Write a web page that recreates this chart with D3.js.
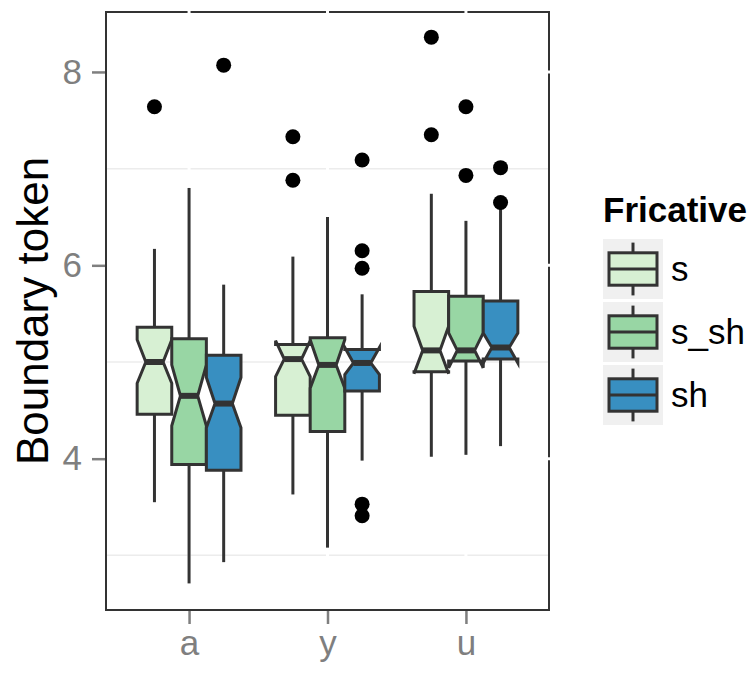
<!DOCTYPE html>
<html>
<head>
<meta charset="utf-8">
<script src="https://cdn.jsdelivr.net/npm/d3@7"></script>
<style>
  body { margin: 0; background: #fff; }
  svg { display: block; font-family: 'Liberation Sans', Arial, sans-serif; }
</style>
</head>
<body>
<svg></svg>
<script>
const SIZE = { width: 749, height: 673 };
const PANEL = { left: 106, right: 549, top: 12, bottom: 610 };

const vowels = ['a', 'y', 'u'];
const fricatives = ['s', 's_sh', 'sh'];
const fills = ['#d7f0d3', '#98d6a4', '#388fc1'];

// rows = vowel, columns = fricative
const whiskerLow = [[3.55, 2.71, 2.93], [3.63, 3.08, 3.98], [4.02, 4.04, 4.13]];
const lowerHinge = [[4.46, 3.94, 3.88], [4.45, 4.28, 4.70], [4.90, 5.01, 5.03]];
const medians = [[5.00, 4.65, 4.57], [5.03, 4.97, 4.99], [5.12, 5.12, 5.15]];
const upperHinge = [[5.36, 5.24, 5.07], [5.18, 5.25, 5.13], [5.73, 5.68, 5.63]];
const whiskerHigh = [[6.17, 6.80, 5.80], [6.09, 6.50, 5.70], [6.74, 6.46, 6.60]];
const notchLow = [[4.78, 4.34, 4.32], [4.85, 4.73, 4.87], [4.88, 4.94, 4.99]];
const notchHigh = [[5.23, 4.97, 4.84], [5.22, 5.23, 5.15], [5.37, 5.30, 5.30]];
const outliers = [
  [[7.64], [], [8.07]],
  [[7.33, 6.88], [], [7.09, 6.15, 5.97, 3.53, 3.41]],
  [[8.36, 7.35], [7.64, 6.93], [7.01, 6.65]]
];

const yTicks = [4, 6, 8];
const yMinor = [3, 5, 7];

const LINE = 3;

const svg = d3.select('svg').attr('width', SIZE.width).attr('height', SIZE.height);

const y = d3.scaleLinear().domain([2.435, 8.62]).range([PANEL.bottom, PANEL.top]);
const x = d3.scalePoint().domain(vowels).range([PANEL.left, PANEL.right]).padding(0.6);
const dodge = d3.scaleBand().domain(fricatives)
  .range([-0.375 * x.step(), 0.375 * x.step()]);
const colour = d3.scaleOrdinal().domain(fricatives).range(fills);

// panel
svg.append('rect')
  .attr('x', PANEL.left).attr('y', PANEL.top)
  .attr('width', PANEL.right - PANEL.left).attr('height', PANEL.bottom - PANEL.top)
  .attr('fill', '#fff').attr('stroke', '#333').attr('stroke-width', 2);

svg.append('g').selectAll('line').data(yMinor).join('line')
  .attr('x1', PANEL.left + 1).attr('x2', PANEL.right - 1)
  .attr('y1', d => y(d)).attr('y2', d => y(d))
  .attr('stroke', '#ececec').attr('stroke-width', 1.5);

const major = svg.append('g');
major.selectAll('.hy').data(yTicks).join('line')
  .attr('x1', PANEL.left + 1).attr('x2', PANEL.right + 1)
  .attr('y1', d => y(d)).attr('y2', d => y(d))
  .attr('stroke', '#fff').attr('stroke-width', 3);
major.selectAll('.vx').data(vowels).join('line')
  .attr('x1', d => x(d)).attr('x2', d => x(d))
  .attr('y1', PANEL.top - 1).attr('y2', PANEL.bottom - 1)
  .attr('stroke', '#fff').attr('stroke-width', 3);

// axes
const yAxis = svg.append('g')
  .attr('transform', `translate(${PANEL.left - 1},0)`)
  .call(d3.axisLeft(y).tickValues(yTicks).tickFormat(d3.format('d')).tickSize(13).tickPadding(10));
const xAxis = svg.append('g')
  .attr('transform', `translate(0,${PANEL.bottom + 1})`)
  .call(d3.axisBottom(x).tickSize(13).tickPadding(6));
[yAxis, xAxis].forEach(a => {
  a.select('.domain').remove();
  a.selectAll('line').attr('stroke', '#7f7f7f').attr('stroke-width', 2.5);
  a.selectAll('text').attr('fill', '#7f7f7f').style('font-size', '35px');
});

svg.append('text')
  .attr('transform', `translate(48,${(PANEL.top + PANEL.bottom) / 2}) rotate(-90)`)
  .attr('text-anchor', 'middle')
  .style('font-size', '44px')
  .text('Boundary token');

// boxes
const boxes = [];
vowels.forEach((v, i) => fricatives.forEach((f, j) => boxes.push({
  v, f,
  ymin: whiskerLow[i][j], lower: lowerHinge[i][j], middle: medians[i][j],
  upper: upperHinge[i][j], ymax: whiskerHigh[i][j],
  nlo: notchLow[i][j], nhi: notchHigh[i][j], out: outliers[i][j]
})));

const bw = dodge.bandwidth();
const cx = d => x(d.v) + dodge(d.f) + bw / 2;

const boxG = svg.append('g').selectAll('g').data(boxes).join('g');

boxG.append('line')
  .attr('x1', cx).attr('x2', cx)
  .attr('y1', d => y(d.upper)).attr('y2', d => y(d.ymax))
  .attr('stroke', '#333').attr('stroke-width', LINE);
boxG.append('line')
  .attr('x1', cx).attr('x2', cx)
  .attr('y1', d => y(d.lower)).attr('y2', d => y(d.ymin))
  .attr('stroke', '#333').attr('stroke-width', LINE);

boxG.append('path')
  .attr('d', d => {
    const x0 = cx(d) - bw / 2, x1 = cx(d) + bw / 2, ind = bw * 0.25;
    const pts = [
      [x0, d.upper], [x0, d.nhi], [x0 + ind, d.middle], [x0, d.nlo], [x0, d.lower],
      [x1, d.lower], [x1, d.nlo], [x1 - ind, d.middle], [x1, d.nhi], [x1, d.upper]
    ];
    return 'M' + pts.map(p => `${p[0]},${y(p[1])}`).join('L') + 'Z';
  })
  .attr('fill', d => colour(d.f))
  .attr('stroke', '#333').attr('stroke-width', LINE).attr('stroke-linejoin', 'miter');

boxG.append('line')
  .attr('x1', d => cx(d) - bw / 4).attr('x2', d => cx(d) + bw / 4)
  .attr('y1', d => y(d.middle)).attr('y2', d => y(d.middle))
  .attr('stroke', '#333').attr('stroke-width', LINE * 2);

boxG.selectAll('circle').data(d => d.out.map(o => ({ d, o }))).join('circle')
  .attr('cx', p => cx(p.d)).attr('cy', p => y(p.o)).attr('r', 7.5)
  .attr('fill', '#000');

// legend
const legend = svg.append('g').attr('transform', 'translate(603,200)');
legend.append('text')
  .attr('x', 0).attr('y', 22)
  .style('font-size', '35px').style('font-weight', 'bold')
  .text('Fricative');

const KEY = 60, STEP = 63;
const keys = legend.selectAll('.key').data(fricatives).join('g')
  .attr('transform', (d, i) => `translate(0,${39 + i * STEP})`);
keys.append('rect').attr('width', KEY).attr('height', KEY).attr('fill', '#f0f0f0');
keys.append('line')
  .attr('x1', KEY / 2).attr('x2', KEY / 2).attr('y1', KEY * 0.06).attr('y2', KEY * 0.94)
  .attr('stroke', '#333').attr('stroke-width', LINE);
keys.append('rect')
  .attr('x', KEY * 0.1).attr('y', KEY * 0.23).attr('width', KEY * 0.8).attr('height', KEY * 0.54)
  .attr('fill', d => colour(d)).attr('stroke', '#333').attr('stroke-width', LINE);
keys.append('line')
  .attr('x1', KEY * 0.1).attr('x2', KEY * 0.9).attr('y1', KEY / 2).attr('y2', KEY / 2)
  .attr('stroke', '#333').attr('stroke-width', LINE);
keys.append('text')
  .attr('x', KEY + 8).attr('y', KEY / 2).attr('dy', '0.35em')
  .style('font-size', '35px')
  .text(d => d);
</script>
</body>
</html>
